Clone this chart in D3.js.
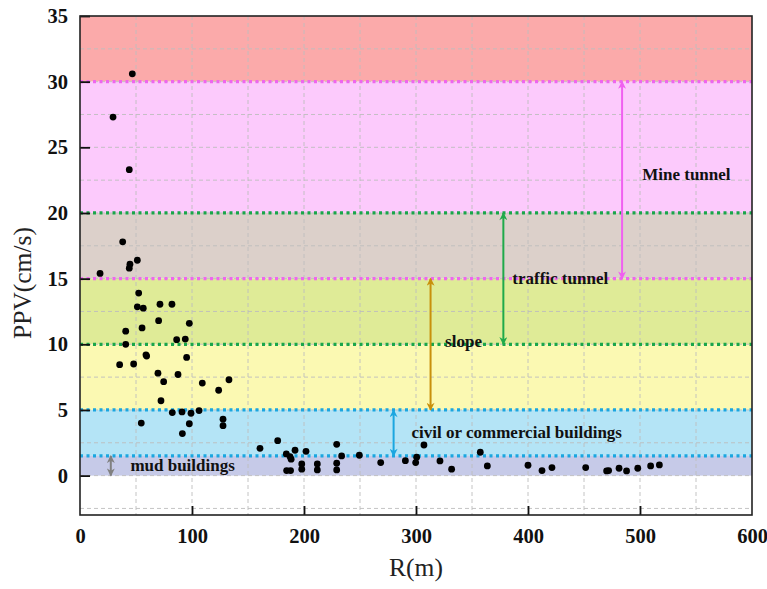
<!DOCTYPE html>
<html>
<head>
<meta charset="utf-8">
<script src="https://cdn.jsdelivr.net/npm/d3@7"></script>
<style>
  html, body { margin: 0; padding: 0; background: #fff; }
  svg { display: block; }
  text { font-family: "Liberation Serif", "Times New Roman", serif; }
</style>
</head>
<body>
<svg id="chart" width="767" height="589"></svg>
<script>
// Measured blasting vibrations: distance R (m) and peak particle velocity PPV (cm/s)
const distance = [
  46.7, 29.5, 44.0,
  17.9, 38.1, 44.0, 44.6, 51.2,
  52.4, 51.2, 56.5, 71.4, 82.1, 70.2, 55.4, 97.6, 40.8, 40.8, 86.3, 94.0,
  95.2, 58.9, 59.5, 35.4, 47.9, 69.6, 87.5, 74.7, 109.2, 123.8, 133.0, 72.3,
  82.4, 91.1, 99.1, 106.3, 54.7, 97.6, 127.7, 127.7, 91.4,
  160.7, 176.5, 184.2, 187.5, 188.5, 192.0, 201.8, 184.5, 188.0, 198.0, 198.0,
  211.9, 211.9, 229.2, 233.6, 229.2, 229.2, 249.4, 268.5, 290.5, 299.7, 300.6,
  307.1, 321.4, 331.8, 357.4, 363.7, 400.0, 412.5, 421.4, 451.5, 470.2, 472.0,
  481.3, 488.0, 498.0, 509.5, 517.3
];
const ppv = [
  30.6, 27.3, 23.3,
  15.4, 17.8, 15.8, 16.1, 16.4,
  13.9, 12.85, 12.75, 13.05, 13.05, 11.8, 11.25, 11.6, 11.0, 10.0, 10.35, 10.4,
  9.0, 9.2, 9.1, 8.45, 8.5, 7.8, 7.7, 7.15, 7.05, 6.5, 7.3, 5.7,
  4.8, 4.85, 4.75, 4.95, 4.0, 3.95, 4.3, 3.8, 3.2,
  2.08, 2.66, 1.65, 1.45, 1.25, 1.93, 1.85, 0.38, 0.38, 0.89, 0.49,
  0.89, 0.43, 2.38, 1.5, 0.94, 0.43, 1.55, 0.99, 1.14, 0.99, 1.4,
  2.33, 1.12, 0.49, 1.78, 0.74, 0.79, 0.38, 0.61, 0.61, 0.36, 0.38,
  0.56, 0.36, 0.56, 0.74, 0.81
];

// Safety-threshold zones (PPV range, fill)
const zoneLow   = [30, 20, 15, 10, 5, 1.5, 0];
const zoneHigh  = [35, 30, 20, 15, 10, 5, 1.5];
const zoneFill  = ["#fbaaaa", "#fccafc", "#dcd0ca", "#dfeb97", "#fbf9b2", "#b4e4f6", "#c6cae8"];

// Dotted threshold lines
const limitValue = [30, 20, 15, 10, 5, 1.5];
const limitColor = ["#ee66ee", "#1aa64a", "#ee66ee", "#1aa64a", "#1aa6e0", "#1aa6e0"];

// Range arrows for each structure type
const rangeName  = ["Mine tunnel", "traffic tunnel", "slope", "civil or commercial buildings", "mud buildings"];
const rangeX     = [484, 378, 313, 280, 27.5];
const rangeTop   = [30, 20, 15, 5, 1.5];
const rangeBot   = [15, 10, 5, 1.5, 0];
const rangeColor = ["#f060f0", "#1faa4a", "#c8900c", "#1ba6e0", "#808080"];
const labelX     = [502, 386, 326, 296, 45];
const labelY     = [22.5, 14.6, 9.8, 2.85, 0.38];

const xTicks = [0, 100, 200, 300, 400, 500, 600];
const yTicks = [0, 5, 10, 15, 20, 25, 30, 35];

const svg = d3.select("#chart");
const plotLeft = 80, plotRight = 752, plotTop = 16, plotBottom = 515;

const x = d3.scaleLinear().domain([0, 600]).range([plotLeft, plotRight]);
const y = d3.scaleLinear().domain([-3, 35]).range([plotBottom, plotTop]);

// zone fills
svg.append("g").selectAll("rect")
  .data(zoneLow)
  .join("rect")
  .attr("x", plotLeft)
  .attr("width", plotRight - plotLeft)
  .attr("y", (d, i) => y(zoneHigh[i]))
  .attr("height", (d, i) => y(d) - y(zoneHigh[i]))
  .attr("fill", (d, i) => zoneFill[i]);

// dashed grid
const grid = svg.append("g")
  .attr("stroke", "#bdbdbd").attr("stroke-width", 0.9)
  .attr("stroke-dasharray", "4,3").attr("fill", "none");
grid.selectAll("line.v")
  .data(d3.range(50, 600, 50))
  .join("line").attr("class", "v")
  .attr("x1", d => x(d)).attr("x2", d => x(d))
  .attr("y1", plotTop).attr("y2", plotBottom);
grid.selectAll("line.h")
  .data(d3.range(-2.5, 35, 2.5))
  .join("line").attr("class", "h")
  .attr("x1", plotLeft).attr("x2", plotRight)
  .attr("y1", d => y(d)).attr("y2", d => y(d));

// dotted threshold lines
svg.append("g").selectAll("line")
  .data(limitValue)
  .join("line")
  .attr("x1", plotLeft).attr("x2", plotRight)
  .attr("y1", d => y(d)).attr("y2", d => y(d))
  .attr("stroke", (d, i) => limitColor[i])
  .attr("stroke-width", 3.2)
  .attr("stroke-dasharray", "3,3.5");

// arrow markers
const defs = svg.append("defs");
rangeColor.forEach((c, i) => {
  defs.append("marker")
    .attr("id", "arrow" + i)
    .attr("viewBox", "0 0 10 10")
    .attr("refX", 9).attr("refY", 5)
    .attr("markerUnits", "userSpaceOnUse")
    .attr("markerWidth", 9).attr("markerHeight", 8)
    .attr("orient", "auto-start-reverse")
    .append("path")
    .attr("d", "M0,0 L10,5 L0,10 L3,5 Z")
    .attr("fill", c);
});

svg.append("g").selectAll("line")
  .data(rangeX)
  .join("line")
  .attr("x1", d => x(d)).attr("x2", d => x(d))
  .attr("y1", (d, i) => y(rangeTop[i]))
  .attr("y2", (d, i) => y(rangeBot[i]))
  .attr("stroke", (d, i) => rangeColor[i])
  .attr("stroke-width", 2)
  .attr("marker-start", (d, i) => `url(#arrow${i})`)
  .attr("marker-end", (d, i) => `url(#arrow${i})`);

// range labels
svg.append("g").selectAll("text")
  .data(rangeName)
  .join("text")
  .attr("x", (d, i) => x(labelX[i]))
  .attr("y", (d, i) => y(labelY[i]))
  .attr("font-size", 17)
  .attr("font-weight", "bold")
  .attr("fill", "#111")
  .text(d => d);

// scatter points
svg.append("g").selectAll("circle")
  .data(distance)
  .join("circle")
  .attr("cx", d => x(d))
  .attr("cy", (d, i) => y(ppv[i]))
  .attr("r", 3.4)
  .attr("fill", "#000");

// axes with inward ticks
const xAxis = d3.axisBottom(x).tickValues(xTicks).tickSizeInner(-9).tickSizeOuter(0).tickPadding(13);
const yAxis = d3.axisLeft(y).tickValues(yTicks).tickSizeInner(-10).tickSizeOuter(0).tickPadding(12);

const gx = svg.append("g").attr("transform", `translate(0,${plotBottom})`).call(xAxis);
const gy = svg.append("g").attr("transform", `translate(${plotLeft},0)`).call(yAxis);
[gx, gy].forEach(g => {
  g.select(".domain").remove();
  g.selectAll(".tick line").attr("stroke", "#111").attr("stroke-width", 1.8);
  g.selectAll(".tick text")
    .attr("font-family", "Liberation Serif, Times New Roman, serif")
    .attr("font-size", 20.5).attr("font-weight", "bold").attr("fill", "#111");
});
gx.selectAll(".tick line").filter(d => d === 0 || d === 600).remove();

// plot frame
svg.append("rect")
  .attr("x", plotLeft).attr("y", plotTop)
  .attr("width", plotRight - plotLeft).attr("height", plotBottom - plotTop)
  .attr("fill", "none").attr("stroke", "#222").attr("stroke-width", 1.6);

// axis titles
svg.append("text")
  .attr("x", x(300)).attr("y", 576)
  .attr("text-anchor", "middle")
  .attr("font-size", 25.5).attr("fill", "#222")
  .text("R(m)");
svg.append("text")
  .attr("transform", "translate(31,283) rotate(-90)")
  .attr("text-anchor", "middle")
  .attr("font-size", 25.5).attr("fill", "#222")
  .text("PPV(cm/s)");
</script>
</body>
</html>
